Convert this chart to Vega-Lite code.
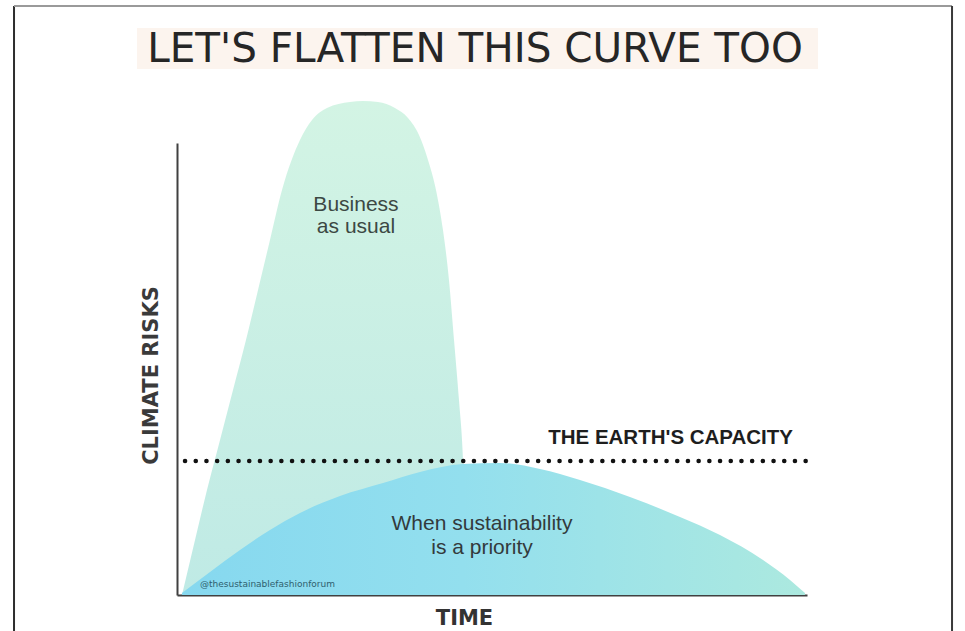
{
  "$schema": "https://vega.github.io/schema/vega-lite/v6.json",
  "autosize": {"type": "none"},
  "width": 630,
  "height": 452,
  "padding": {"left": 177, "top": 143, "right": 158, "bottom": 36},
  "background": "#ffffff",
  "view": {"stroke": null},
  "datasets": {
    "business": [
      {"time": 0.79, "risk": 0},
      {"time": 2.86, "risk": 12.17},
      {"time": 4.76, "risk": 23.23},
      {"time": 6.83, "risk": 34.29},
      {"time": 8.89, "risk": 45.35},
      {"time": 10.95, "risk": 56.42},
      {"time": 12.86, "risk": 67.48},
      {"time": 14.76, "risk": 78.54},
      {"time": 16.67, "risk": 89.6},
      {"time": 19.52, "risk": 100.66},
      {"time": 21.43, "risk": 105.09},
      {"time": 23.81, "risk": 107.74},
      {"time": 27.46, "risk": 109.07},
      {"time": 29.52, "risk": 109.29},
      {"time": 31.9, "risk": 109.07},
      {"time": 34.6, "risk": 107.74},
      {"time": 36.67, "risk": 105.53},
      {"time": 38.41, "risk": 101.77},
      {"time": 39.84, "risk": 96.24},
      {"time": 41.11, "risk": 89.6},
      {"time": 42.22, "risk": 80.75},
      {"time": 43.17, "risk": 69.69},
      {"time": 43.97, "risk": 56.42},
      {"time": 44.76, "risk": 43.14},
      {"time": 45.4, "risk": 29.65},
      {"time": 45.71, "risk": 16.59},
      {"time": 45.87, "risk": 0}
    ],
    "sustainable": [
      {"time": 0.79, "risk": 0.44},
      {"time": 5.24, "risk": 5.09},
      {"time": 10.0, "risk": 9.96},
      {"time": 14.76, "risk": 14.38},
      {"time": 19.52, "risk": 18.14},
      {"time": 25.87, "risk": 21.9},
      {"time": 32.7, "risk": 24.78},
      {"time": 38.57, "risk": 27.21},
      {"time": 45.4, "risk": 28.98},
      {"time": 51.27, "risk": 29.2},
      {"time": 57.62, "risk": 27.88},
      {"time": 63.97, "risk": 25.44},
      {"time": 71.9, "risk": 21.68},
      {"time": 79.84, "risk": 17.26},
      {"time": 86.19, "risk": 13.27},
      {"time": 93.02, "risk": 7.74},
      {"time": 97.3, "risk": 3.32},
      {"time": 99.68, "risk": 0.44}
    ],
    "capacity": [{"capacity": 29.65, "label": "THE EARTH'S CAPACITY"}]
  },
  "layer": [
    {
      "data": {"name": "business"},
      "mark": {
        "type": "area",
        "interpolate": "monotone",
        "clip": false,
        "color": {"gradient": "linear", "x1": 0, "y1": 0, "x2": 0, "y2": 1,
          "stops": [{"offset": 0, "color": "#d3f4e4"}, {"offset": 1, "color": "#bfeae5"}]}
      },
      "encoding": {
        "x": {"field": "time", "type": "quantitative", "scale": {"domain": [0, 100], "zero": false, "nice": false},
          "axis": {"title": "TIME", "domainColor": "#404040", "domainWidth": 2, "ticks": false, "labels": false, "grid": false,
            "titleFont": "DejaVu Sans", "titleFontSize": 21, "titleFontWeight": "bold", "titleColor": "#333333",
            "titleX": 287, "titleY": 29, "titleAlign": "center", "titleBaseline": "alphabetic"}},
        "y": {"field": "risk", "type": "quantitative", "scale": {"domain": [0, 100], "zero": false, "nice": false},
          "axis": {"title": "CLIMATE RISKS", "domainColor": "#404040", "domainWidth": 2, "ticks": false, "labels": false, "grid": false,
            "titleFont": "DejaVu Sans", "titleFontSize": 21, "titleFontWeight": "bold", "titleColor": "#3a3a3a",
            "titleX": -20, "titleY": 232, "titleAngle": -90, "titleAlign": "center", "titleBaseline": "alphabetic"}}
      }
    },
    {
      "data": {"name": "sustainable"},
      "mark": {
        "type": "area",
        "interpolate": "monotone",
        "clip": false,
        "color": {"gradient": "linear", "x1": 0, "y1": 0, "x2": 1, "y2": 0,
          "stops": [{"offset": 0, "color": "#86d8ef"}, {"offset": 0.45, "color": "#93dfee"}, {"offset": 1, "color": "#ace9df"}]}
      },
      "encoding": {
        "x": {"field": "time", "type": "quantitative"},
        "y": {"field": "risk", "type": "quantitative"}
      }
    },
    {
      "data": {"values": [{}]},
      "mark": {"type": "rect", "fill": "#fcf4ee", "clip": false},
      "encoding": {
        "x": {"datum": -6.35, "type": "quantitative"},
        "x2": {"datum": 101.75},
        "y": {"datum": 125.44, "type": "quantitative"},
        "y2": {"datum": 116.37}
      }
    },
    {
      "data": {"values": [{"title": "LET'S FLATTEN THIS CURVE TOO"}]},
      "mark": {"type": "text", "font": "DejaVu Sans", "fontSize": 40.5, "color": "#262626", "align": "center", "baseline": "alphabetic", "clip": false},
      "encoding": {
        "x": {"datum": 47.3, "type": "quantitative"},
        "y": {"datum": 117.92, "type": "quantitative"},
        "text": {"field": "title"}
      }
    },
    {
      "data": {"values": [{}]},
      "mark": {"type": "rule", "color": "#2e2e2e", "strokeWidth": 2, "clip": false},
      "encoding": {
        "x": {"datum": -25.87, "type": "quantitative"},
        "y": {"datum": 130.31, "type": "quantitative"},
        "y2": {"datum": -10}
      }
    },
    {
      "data": {"values": [{}]},
      "mark": {"type": "rule", "color": "#9a9a9a", "strokeWidth": 2, "clip": false},
      "encoding": {
        "x": {"datum": -25.87, "type": "quantitative"},
        "x2": {"datum": 123.02},
        "y": {"datum": 130.31, "type": "quantitative"}
      }
    },
    {
      "data": {"values": [{}]},
      "mark": {"type": "rule", "color": "#3a3a3a", "strokeWidth": 2, "clip": false},
      "encoding": {
        "x": {"datum": 123.02, "type": "quantitative"},
        "y": {"datum": 130.31, "type": "quantitative"},
        "y2": {"datum": -10}
      }
    },
    {
      "data": {"name": "capacity"},
      "mark": {"type": "rule", "color": "#111111", "strokeWidth": 4.5, "strokeCap": "round", "strokeDash": [0.1, 10.6], "clip": false},
      "encoding": {
        "x": {"datum": 1.27, "type": "quantitative"},
        "x2": {"datum": 100},
        "y": {"field": "capacity", "type": "quantitative"}
      }
    },
    {
      "data": {"name": "capacity"},
      "mark": {"type": "text", "font": "Liberation Sans", "fontSize": 20.5, "fontWeight": "bold", "color": "#1e1e1e", "align": "right", "baseline": "alphabetic", "clip": false},
      "encoding": {
        "x": {"datum": 97.78, "type": "quantitative"},
        "y": {"datum": 33.41, "type": "quantitative"},
        "text": {"field": "label"}
      }
    },
    {
      "data": {"values": [{"label": "Business\nas usual"}]},
      "mark": {"type": "text", "font": "Liberation Sans", "fontSize": 21, "color": "#3c4843", "align": "center", "baseline": "alphabetic", "lineBreak": "\n", "lineHeight": 22, "clip": false},
      "encoding": {
        "x": {"datum": 28.41, "type": "quantitative"},
        "y": {"datum": 84.96, "type": "quantitative"},
        "text": {"field": "label"}
      }
    },
    {
      "data": {"values": [{"label": "When sustainability\nis a priority"}]},
      "mark": {"type": "text", "font": "Liberation Sans", "fontSize": 21, "color": "#333a3c", "align": "center", "baseline": "alphabetic", "lineBreak": "\n", "lineHeight": 24, "clip": false},
      "encoding": {
        "x": {"datum": 48.41, "type": "quantitative"},
        "y": {"datum": 14.38, "type": "quantitative"},
        "text": {"field": "label"}
      }
    },
    {
      "data": {"values": [{"label": "@thesustainablefashionforum"}]},
      "mark": {"type": "text", "font": "DejaVu Sans", "fontSize": 9, "color": "#2f5f6e", "align": "left", "baseline": "alphabetic", "clip": false},
      "encoding": {
        "x": {"datum": 3.65, "type": "quantitative"},
        "y": {"datum": 1.77, "type": "quantitative"},
        "text": {"field": "label"}
      }
    }
  ]
}
